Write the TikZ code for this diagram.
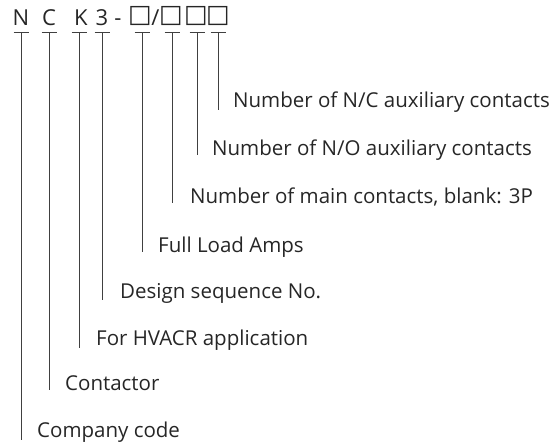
\documentclass[tikz,border=0pt]{standalone}
\usepackage{fontspec}
\setmainfont{Open Sans}
\newfontfamily\symfont{DejaVu Sans}
\begin{document}
\begin{tikzpicture}[x=1pt,y=-1pt,
  lbl/.style={anchor=base west,inner sep=0pt,font=\fontsize{20.5}{24}\selectfont,text=black!85},
  code/.style={anchor=base,inner sep=0pt,font=\fontsize{22}{24}\selectfont,text=black!85},
  sq/.style={anchor=base,inner sep=0pt,font=\symfont\fontsize{25}{26}\selectfont,text=black!85},
  tick/.style={draw=black!75,line width=0.8pt},
  lead/.style={draw=black!75,line width=0.8pt}]
\useasboundingbox (0,0) rectangle (560,445);
% code characters
\node[code] (cN) at (21,25) {N};
\node[code] (cC) at (49,25) {C};
\node[code] (cK) at (81,25) {K};
\node[code] (c3) at (102,25) {3};
\node[code] (cd) at (118,25) {-};
\node[sq] (s1) at (140,22.5) {□};
\node[code] (sl) at (155.5,25) {/};
\node[sq] (s2) at (171,22.5) {□};
\node[sq] (s3) at (196,22.5) {□};
\node[sq] (s4) at (218,22.5) {□};
% labels
\node[lbl] (l4) at (233,107) {Number of N/C auxiliary contacts};
\node[lbl] (l3) at (212,155) {Number of N/O auxiliary contacts};
\node[lbl] (l2) at (190,203) {Number of main contacts, blank: 3P};
\node[lbl] (l1) at (158,252) {Full Load Amps};
\node[lbl] (l3d) at (120,298) {Design sequence No.};
\node[lbl] (lK) at (96,345) {For HVACR application};
\node[lbl] (lC) at (65,390) {Contactor};
\node[lbl] (lN) at (37,437) {Company code};
% tick bars and leaders
\foreach \n/\x/\e in {cN/21/440, cC/49/390, cK/79/348, c3/102/300, s1/142/252, s2/172/203, s3/197/155, s4/218/110}{
  \coordinate (t\n) at (\x,32);
  \coordinate (b\n) at (\x,\e);
  \draw[tick] ([xshift=-7.5pt]t\n) -- ([xshift=7.5pt]t\n);
  \draw[lead] (t\n) -- (b\n);
}
\end{tikzpicture}
\end{document}
